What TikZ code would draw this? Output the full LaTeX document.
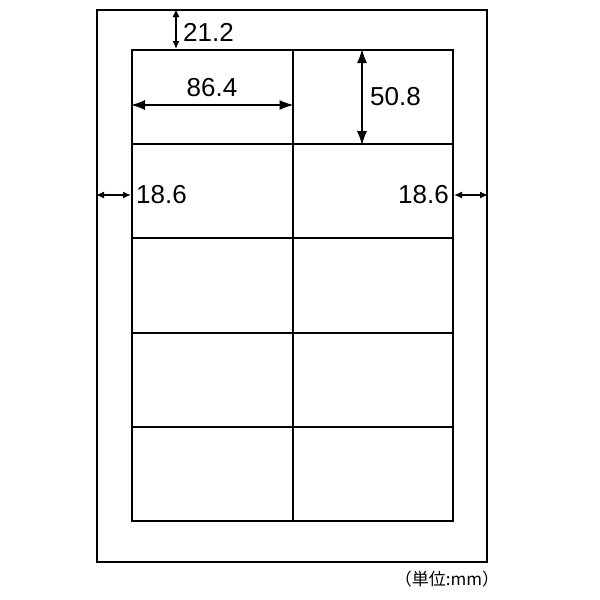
\documentclass[tikz,border=0pt]{standalone}
\usepackage{fontspec}
\setmainfont{Liberation Sans}
\newfontfamily\jpfont{Noto Sans CJK JP}
\usetikzlibrary{arrows.meta}

\begin{document}
\begin{tikzpicture}[
  x = 1pt, y = -1pt, % pixel grid of the sheet
  big/.style = {{Latex[length=14pt,width=10pt]}-{Latex[length=14pt,width=10pt]}, line width=1.5pt},
  small/.style = {{Latex[length=8pt,width=7pt]}-{Latex[length=8pt,width=7pt]}, line width=1.5pt},
  size/.style = {font=\fontsize{26}{28}\selectfont, inner sep=0pt}
]
  \useasboundingbox (0,0) rectangle (600,600);

  % sheet
  \node[draw, line width=2pt, minimum width=390pt, minimum height=552pt, inner sep=0pt] (page) at (292,286) {};

  % labels 2 x 5
  \foreach \c in {1,2} {
    \foreach \r in {1,...,5} {
      \node[draw, line width=2pt, minimum width=160.5pt, minimum height=94.2pt, inner sep=0pt]
        (c\c\r) at ({132 + 160.5*(\c-0.5)}, {50 + 94.2*(\r-0.5)}) {};
    }
  }

  % margins and sizes
  \draw[small] (page.north -| 176,0) -- (c11.north -| 176,0);
  \node[size, anchor=west] (top) at (183,32) {21.2};

  \draw[big] (c11.west |- 0,105) -- (c11.east |- 0,105);
  \node[size] (wid) at (212,88) {86.4};

  \draw[big] (c21.north -| 362,0) -- (c21.south -| 362,0);
  \node[size, anchor=west] (hgt) at (370,97) {50.8};

  \draw[small] (page.west |- 0,195) -- (c12.west |- 0,195);
  \node[size, anchor=west] (lm) at (136,195) {18.6};

  \draw[small] (c22.east |- 0,195) -- (page.east |- 0,195);
  \node[size, anchor=east] (rm) at (449,195) {18.6};

  \node[font=\jpfont\fontsize{17}{19}\selectfont, inner sep=0pt] (unit) at (447,579) {（単位:mm）};
\end{tikzpicture}
\end{document}
